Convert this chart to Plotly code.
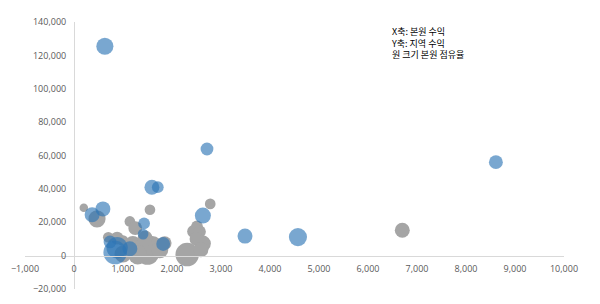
import plotly.graph_objects as go

# Blue series: x = 본원 수익, y = 지역 수익, share = 본원 점유율 (bubble size)
blue_x = [630, 2714, 8610, 1590, 1710, 2630, 3490, 4570, 590, 370, 1430, 1410, 735, 880, 1140, 840, 1820]
blue_y = [125500, 63900, 56000, 41000, 41000, 24000, 11700, 11100, 28000, 24500, 19300, 12900, 8200, 4700, 4100, 1800, 7000]
blue_share = [2.56, 1.44, 1.69, 1.96, 1.21, 2.25, 1.96, 2.89, 1.96, 1.96, 1.21, 1.0, 1.44, 4.0, 1.96, 4.84, 1.69]

# Gray series
gray_x = [200, 470, 1550, 1140, 1250, 700, 880, 1000, 1200, 1350, 1500, 1600, 1750, 1450, 1850, 1300,
          2310, 2440, 2510, 2560, 2500, 2630, 2590, 2780, 6700, 1000]
gray_y = [28700, 22000, 27500, 20500, 16500, 11000, 10500, 9000, 7000, 3000, 1500, 6000, 3500, 10500, 7500, 500,
          600, 14500, 17500, 14300, 10000, 7200, 3500, 31000, 15200, 1000]
gray_share = [0.64, 2.56, 1.0, 1.0, 1.69, 1.0, 1.44, 1.0, 2.25, 4.0, 4.84, 3.24, 2.56, 1.96, 1.69, 3.24,
              4.84, 1.44, 1.21, 1.44, 1.69, 2.25, 1.96, 1.0, 1.96, 2.56]

x_range = [-1000, 10000]
y_range = [-20000, 140000]
legend_lines = ["X축: 본원 수익", "Y축: 지역 수익", "원 크기 본원 점유율"]

max_share = max(blue_share + gray_share)
max_d = 23.5
sizeref = 2.0 * max_share / (max_d ** 2)

fig = go.Figure()
fig.add_trace(go.Scatter(
    x=gray_x, y=gray_y, mode="markers",
    marker=dict(size=gray_share, sizemode="area", sizeref=sizeref, opacity=1,
                color="#a5a5a5", line=dict(width=0)),
    hoverinfo="skip", showlegend=False))
fig.add_trace(go.Scatter(
    x=blue_x, y=blue_y, mode="markers",
    marker=dict(size=blue_share, sizemode="area", sizeref=sizeref, opacity=1,
                color="rgba(46,117,182,0.64)", line=dict(width=0)),
    hoverinfo="skip", showlegend=False))

x0_frac = (0 - x_range[0]) / (x_range[1] - x_range[0])
y0_frac = (0 - y_range[0]) / (y_range[1] - y_range[0])

tickfont = dict(family="Open Sans", size=9, color="#595959")

fig.update_layout(
    width=600, height=304,
    margin=dict(l=25, r=36, t=22, b=9),
    paper_bgcolor="white", plot_bgcolor="white",
    hovermode=False,
    xaxis=dict(range=x_range, dtick=1000, tickformat=",", showgrid=False, zeroline=False,
               showline=True, linecolor="#d9d9d9", linewidth=1,
               anchor="free", position=y0_frac,
               ticks="outside", ticklen=5, tickcolor="rgba(0,0,0,0)",
               tickfont=tickfont),
    yaxis=dict(range=y_range, dtick=20000, tickformat=",", showgrid=False, zeroline=False,
               showline=True, linecolor="#d9d9d9", linewidth=1,
               anchor="free", position=x0_frac,
               ticks="outside", ticklen=6, tickcolor="rgba(0,0,0,0)",
               tickfont=tickfont),
    annotations=[dict(
        text="<br>".join(legend_lines),
        xref="paper", yref="paper", x=0.675, y=0.995,
        xanchor="left", yanchor="top", align="left", showarrow=False,
        font=dict(family="Noto Sans CJK KR", size=9, color="#000000"))],
)

fig.write_html("out.html")
